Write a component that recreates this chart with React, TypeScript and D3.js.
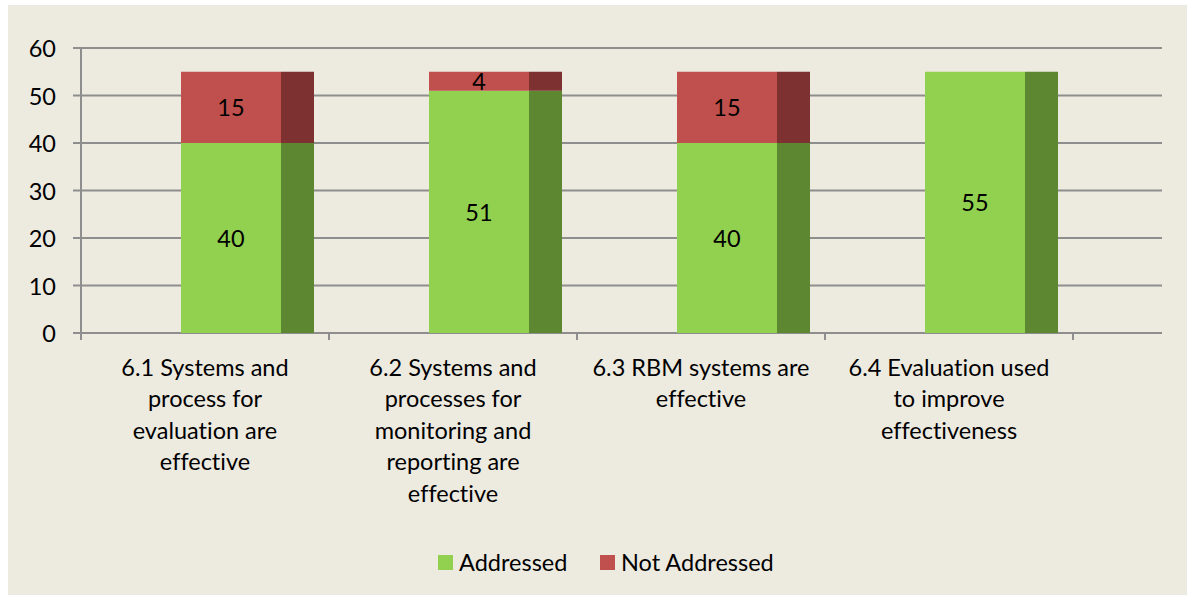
import React from "react";
import * as d3 from "d3";

const categories: string[][] = [
  ["6.1 Systems and", "process for", "evaluation are", "effective"],
  ["6.2 Systems and", "processes for", "monitoring and", "reporting are", "effective"],
  ["6.3 RBM systems are", "effective"],
  ["6.4 Evaluation used", "to improve", "effectiveness"],
];
const addressed = [40, 51, 40, 55];
const notAddressed = [15, 4, 15, 0];
const yTicks = [0, 10, 20, 30, 40, 50, 60];
const seriesNames = ["Addressed", "Not Addressed"];

const FONT = "Lato, 'Open Sans', sans-serif";
const FRONT = ["#92D050", "#C0504D"];
const SIDE = ["#5E8731", "#7E3131"];
const FS = 23.5;

export default function App() {
  const W = 1187;
  const H = 595;
  const x0 = 81;
  const x1 = 1073;
  const gridEnd = 1162;
  const y = d3.scaleLinear().domain([0, 60]).range([333, 48]);
  const keys = categories.map((_, i) => String(i));
  const x = d3.scaleBand<string>().domain(keys).range([x0, x1]).padding(0);
  const bw = x.bandwidth();
  const frontOff = (bw * 100) / 248;
  const frontW = (bw * 100) / 248;
  const sideW = (bw * 33) / 248;

  const stackData = addressed.map((a, i) => ({ key: keys[i], a, n: notAddressed[i] }));
  const stack = d3.stack<any>().keys(["a", "n"])(stackData);

  const grid = "#8E8E8E";

  return (
    <svg
      width={W}
      height={H}
      style={{ position: "absolute", left: 0, top: 0, display: "block", fontVariantLigatures: "none" }}
      fontFamily={FONT}
    >
      <rect x={0} y={0} width={W} height={H} fill="#ffffff" />
      <rect x={8} y={5} width={W - 8} height={H - 5} fill="#EDEAE0" />

      {yTicks.map((t) => (
        <g key={t}>
          <line x1={x0} x2={gridEnd} y1={y(t)} y2={y(t)} stroke={grid} strokeWidth={2} />
          <line x1={73} x2={x0} y1={y(t)} y2={y(t)} stroke={grid} strokeWidth={2} />
          <text x={56} y={y(t)} textAnchor="end" dominantBaseline="central" fontSize={FS} fill="#000">
            {t}
          </text>
        </g>
      ))}
      <line x1={x0} x2={x0} y1={y(60)} y2={340} stroke={grid} strokeWidth={2} />
      {[...keys.map((k) => x(k) as number), x1].map((v, i) => (
        <line key={i} x1={v} x2={v} y1={y(0)} y2={340} stroke={grid} strokeWidth={2} />
      ))}

      {stack.map((s, si) =>
        s.map((d, i) => {
          const v = d[1] - d[0];
          if (v <= 0) return null;
          const bx = (x(keys[i]) as number) + frontOff;
          const top = y(d[1]);
          const bot = y(d[0]);
          return (
            <g key={si + "-" + i}>
              <rect x={bx} y={top} width={frontW} height={bot - top} fill={FRONT[si]} />
              <rect x={bx + frontW} y={top} width={sideW} height={bot - top} fill={SIDE[si]} />
              <text
                x={bx + frontW / 2}
                y={(top + bot) / 2}
                textAnchor="middle"
                dominantBaseline="central"
                fontSize={FS}
                fill="#000"
              >
                {v}
              </text>
            </g>
          );
        })
      )}

      {categories.map((lines, i) => {
        const cx = (x(keys[i]) as number) + bw / 2;
        return (
          <text key={i} textAnchor="middle" fontSize={FS} fill="#000">
            {lines.map((l, j) => (
              <tspan key={j} x={cx} y={366.5 + j * 31.6} dominantBaseline="central">
                {l}
              </tspan>
            ))}
          </text>
        );
      })}

      {seriesNames.map((name, i) => {
        const lx = i === 0 ? 438 : 600;
        return (
          <g key={name}>
            <rect x={lx} y={555} width={15} height={15} fill={FRONT[i]} />
            <text x={lx + 21} y={562} dominantBaseline="central" fontSize={FS} fill="#000">
              {name}
            </text>
          </g>
        );
      })}
    </svg>
  );
}
